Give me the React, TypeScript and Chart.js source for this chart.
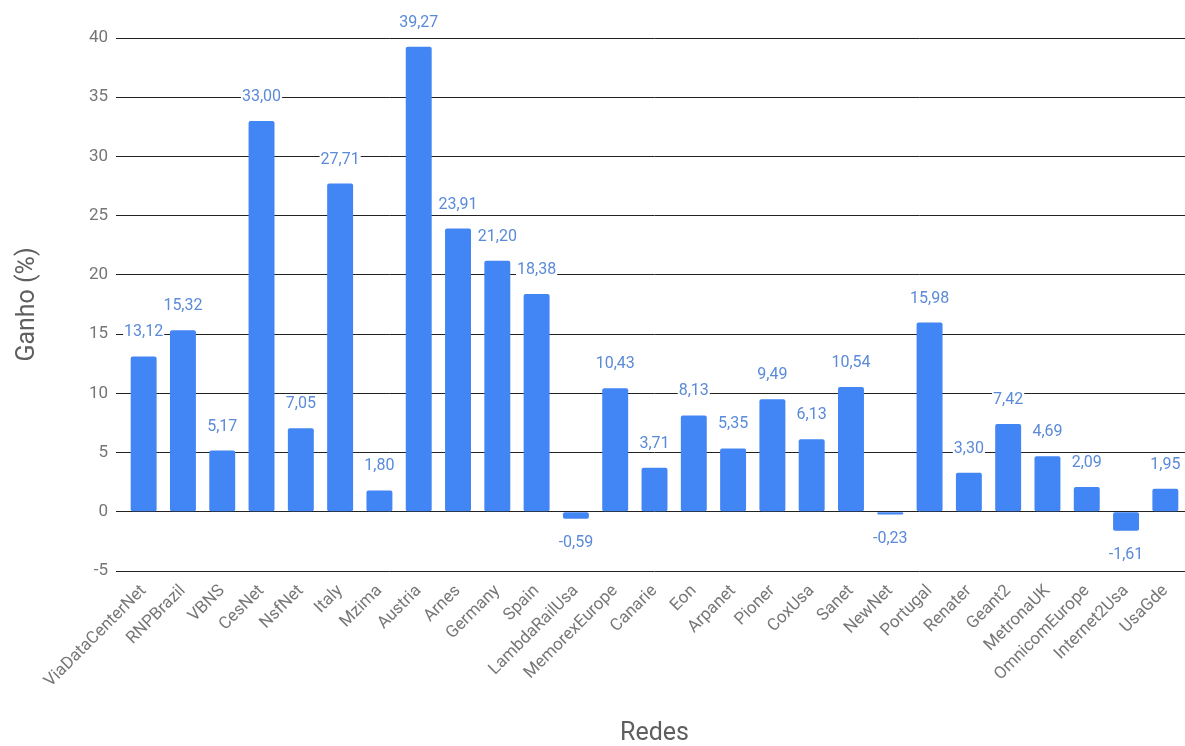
import React, { useEffect, useRef } from "react";
import { Chart, registerables } from "chart.js";

Chart.register(...registerables);

const categories: string[] = [
  "ViaDataCenterNet", "RNPBrazil", "VBNS", "CesNet", "NsfNet", "Italy", "Mzima",
  "Austria", "Arnes", "Germany", "Spain", "LambdaRailUsa", "MemorexEurope", "Canarie",
  "Eon", "Arpanet", "Pioner", "CoxUsa", "Sanet", "NewNet", "Portugal", "Renater",
  "Geant2", "MetronaUK", "OmnicomEurope", "Internet2Usa", "UsaGde",
];

const ganho: number[] = [
  13.12, 15.32, 5.17, 33.0, 7.05, 27.71, 1.8,
  39.27, 23.91, 21.2, 18.38, -0.59, 10.43, 3.71,
  8.13, 5.35, 9.49, 6.13, 10.54, -0.23, 15.98, 3.3,
  7.42, 4.69, 2.09, -1.61, 1.95,
];

const yMin = -5;
const yMax = 40;
const yStep = 5;

const xTitle = "Redes";
const yTitle = "Ganho (%)";

const FONT = "Roboto, 'Noto Sans', Arial, sans-serif";

const dataLabelPlugin = {
  id: "dataLabels",
  afterDatasetsDraw(chart: any) {
    const ctx = chart.ctx;
    const meta = chart.getDatasetMeta(0);
    const values = chart.data.datasets[0].data as number[];
    ctx.save();
    ctx.font = `16px ${FONT}`;
    ctx.textAlign = "center";
    ctx.textBaseline = "middle";
    meta.data.forEach((bar: any, i: number) => {
      const v = values[i];
      const txt = v.toFixed(2).replace(".", ",");
      const y = v >= 0 ? bar.y - 24 : bar.y + 24;
      const w = ctx.measureText(txt).width;
      ctx.fillStyle = "#ffffff";
      ctx.fillRect(bar.x - w / 2 - 1, y - 7, w + 2, 14);
      ctx.fillStyle = "#5a8ad8";
      ctx.fillText(txt, bar.x, y);
    });
    ctx.restore();
  },
};

export default function App() {
  const ref = useRef<HTMLCanvasElement | null>(null);

  useEffect(() => {
    document.body.style.margin = "0";
    if (!ref.current) return;
    const chart = new Chart(ref.current, {
      type: "bar",
      data: {
        labels: categories,
        datasets: [
          {
            label: yTitle,
            data: ganho,
            backgroundColor: "#4285f4",
            borderRadius: 2,
            borderSkipped: false,
            barPercentage: 0.66,
            categoryPercentage: 1,
          },
        ],
      },
      options: {
        animation: false,
        responsive: true,
        maintainAspectRatio: false,
        layout: { padding: { top: 38, left: 0, right: 0, bottom: 0 } },
        plugins: {
          legend: { display: false },
          tooltip: { enabled: false },
        },
        scales: {
          x: {
            grid: { display: false },
            border: { display: false },
            ticks: {
              autoSkip: false,
              maxRotation: 45,
              minRotation: 45,
              color: "#777777",
              font: { family: FONT, size: 17 },
              padding: 2,
            },
            title: {
              display: true,
              text: xTitle,
              color: "#5f5f5f",
              font: { family: FONT, size: 25, lineHeight: 1 },
              padding: { top: 0, bottom: 0 },
            },
            afterFit: (scale: any) => {
              scale.height = 175;
            },
          },
          y: {
            min: yMin,
            max: yMax,
            border: { display: false },
            grid: {
              color: "#222222",
              lineWidth: 1,
              tickLength: 8,
              drawTicks: true,
            },
            ticks: {
              stepSize: yStep,
              color: "#757575",
              font: { family: FONT, size: 17 },
              padding: 8,
            },
            title: {
              display: true,
              text: yTitle,
              color: "#5f5f5f",
              font: { family: FONT, size: 25, lineHeight: 1 },
              padding: { top: 15, bottom: 0 },
            },
            afterFit: (scale: any) => {
              scale.width = 124;
            },
          },
        },
      },
      plugins: [dataLabelPlugin],
    });
    return () => chart.destroy();
  }, []);

  return (
    <div
      style={{
        position: "fixed",
        left: 0,
        top: 0,
        width: 1185,
        height: 746,
        background: "#ffffff",
      }}
    >
      <canvas ref={ref} />
    </div>
  );
}
